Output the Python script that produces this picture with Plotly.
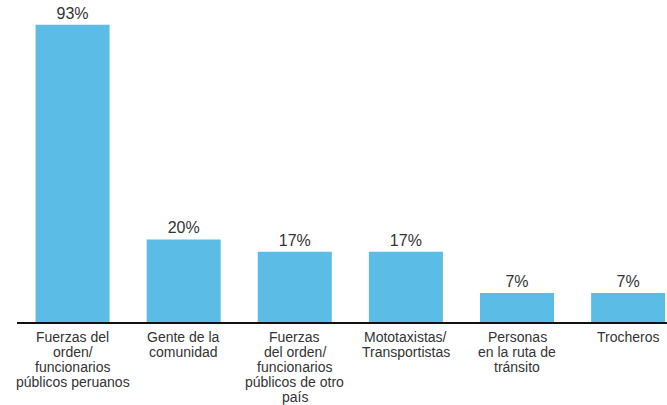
import plotly.graph_objects as go

# Categories (line breaks as in the original labels)
categories = [
    "Fuerzas del<br>orden/<br>funcionarios<br>públicos peruanos",
    "Gente de la<br>comunidad",
    "Fuerzas<br>del orden/<br>funcionarios<br>públicos de otro<br>país",
    "Mototaxistas/<br>Transportistas",
    "Personas<br>en la ruta de<br>tránsito",
    "Trocheros",
]
# Percentages printed above the bars
percent_labels = [93, 20, 17, 17, 7, 7]
# Bar heights as drawn in the picture (the first bar is drawn shortened)
bar_heights = [72, 20, 17, 17, 7, 7]

FONT = "Liberation Sans, Arial"
TEXT_COLOR = "#333333"

fig = go.Figure(
    go.Bar(
        x=list(range(len(categories))),
        y=bar_heights,
        text=[f"{v}%" for v in percent_labels],
        textposition="outside",
        textfont=dict(family=FONT, size=16, color=TEXT_COLOR),
        marker=dict(color="#5BBDE5", line=dict(width=0)),
        cliponaxis=False,
        hoverinfo="skip",
    )
)

# Category labels, one text per line so the tight line spacing of the original is kept
line_gap = 15
first_offset = 15
for i, label in enumerate(categories):
    for j, line in enumerate(label.split("<br>")):
        fig.add_annotation(
            x=i, xref="x",
            y=0, yref="y",
            text=line,
            showarrow=False,
            xanchor="center",
            yanchor="middle",
            borderpad=0,
            yshift=-(first_offset + j * line_gap),
            font=dict(family=FONT, size=14, color=TEXT_COLOR),
        )

fig.update_layout(
    width=667,
    height=405,
    margin=dict(l=17, r=0, t=0, b=83, autoexpand=False),
    plot_bgcolor="white",
    paper_bgcolor="white",
    bargap=0.334,
    showlegend=False,
    font=dict(family=FONT, size=13, color=TEXT_COLOR),
)
fig.update_xaxes(
    range=[-0.5, 5.35],
    showline=True,
    linecolor="#111111",
    linewidth=2,
    showgrid=False,
    ticks="",
    showticklabels=False,
    automargin=False,
    zeroline=False,
)
fig.update_yaxes(
    range=[0, 78],
    visible=False,
    showgrid=False,
    zeroline=False,
    automargin=False,
)

fig.write_html(
    "out.html",
    config={"displayModeBar": False},
    post_script="document.body.style.margin='0';document.body.style.overflow='hidden';",
)
